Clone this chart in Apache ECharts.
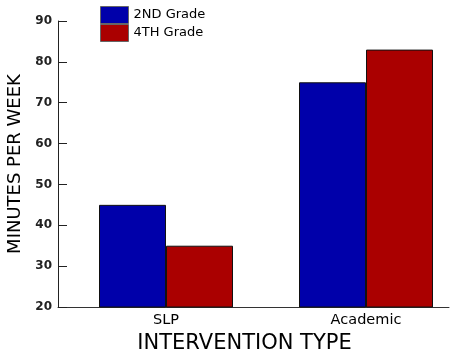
<!DOCTYPE html>
<html><head><meta charset="utf-8">
<script src="https://cdn.jsdelivr.net/npm/echarts@6/dist/echarts.min.js"></script>
<style>html,body{margin:0;padding:0;background:#fff}#c{width:450px;height:354px}</style>
</head><body><div id="c"></div>
<script>
var categories = ['SLP', 'Academic'];
var categoryPos = [1, 2];
var grade2 = [45, 75];
var grade4 = [35, 83];
var seriesNames = ['2ND Grade', '4TH Grade'];
var yTicks = [20, 30, 40, 50, 60, 70, 80, 90];

var chart = echarts.init(document.getElementById('c'));
function pairs(vals){ return vals.map(function(v,i){ return [categoryPos[i], v]; }); }
var font = 'DejaVu Sans';
chart.setOption({
  animation: false,
  grid: {left: 58, right: 1, top: 21, bottom: 47, containLabel: false, outerBoundsMode: 'none'},
  legend: {
    orient: 'vertical', left: 100, top: 6, padding: 0, itemWidth: 28, itemHeight: 17, itemGap: 0,
    icon: 'rect',
    itemStyle: {borderColor: '#666', borderWidth: 1},
    textStyle: {fontFamily: font, fontSize: 13, color: '#000', lineHeight: 17},
    data: seriesNames
  },
  xAxis: {
    type: 'value', min: 0.46, max: 2.415,
    name: 'INTERVENTION TYPE', nameLocation: 'middle', nameGap: 24,
    nameTextStyle: {fontFamily: font, fontSize: 21, color: '#000', padding: [0, 18, 0, 0]},
    axisLine: {show: true, lineStyle: {color: '#333', width: 1}},
    axisTick: {show: false},
    splitLine: {show: false},
    axisLabel: {customValues: categoryPos, fontFamily: font, fontSize: 14.5, color: '#000', margin: 6,
      formatter: function(v){ var i = categoryPos.indexOf(v); return i >= 0 ? categories[i] : ''; }}
  },
  yAxis: {
    type: 'value', min: 20, max: 90, interval: 10,
    name: 'MINUTES PER WEEK', nameLocation: 'middle', nameGap: 30, nameRotate: 90,
    nameTextStyle: {fontFamily: font, fontSize: 18, color: '#000'},
    axisLine: {show: true, lineStyle: {color: '#222', width: 1}},
    axisTick: {show: true, inside: true, length: 9, lineStyle: {color: '#222'}},
    splitLine: {show: false},
    axisLabel: {fontFamily: font, fontSize: 12, fontWeight: 'bold', color: '#222', margin: 6}
  },
  series: [
    {name: seriesNames[0], type: 'bar', data: pairs(grade2), barWidth: 67, barGap: '0%',
     itemStyle: {color: '#0000AA', borderColor: '#111', borderWidth: 1}},
    {name: seriesNames[1], type: 'bar', data: pairs(grade4), barWidth: 67, barGap: '0%',
     itemStyle: {color: '#AA0000', borderColor: '#111', borderWidth: 1}}
  ]
});
</script></body></html>
